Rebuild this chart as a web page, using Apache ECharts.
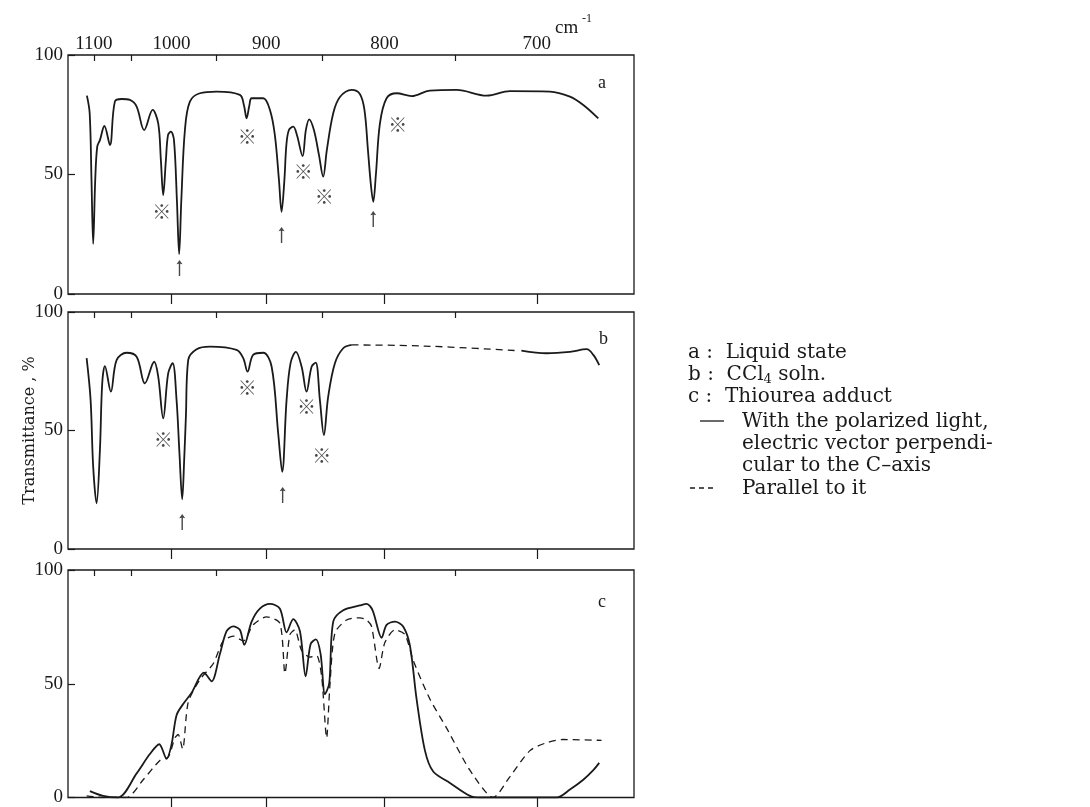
<!DOCTYPE html>
<html>
<head>
<meta charset="utf-8">
<script src="https://cdn.jsdelivr.net/npm/echarts@6/dist/echarts.min.js"></script>
<style>
html,body{margin:0;padding:0;background:#fff;}
#chart{width:1090px;height:807px;}
</style>
</head>
<body>
<div id="chart"></div>
<script>
// wavenumber (cm-1) / transmittance (%)
var aWn = [1110, 1106, 1103.4, 1101, 1098.1, 1095.3, 1091.5, 1085.3, 1077.7, 1071, 1062, 1051.2, 1042.5, 1033, 1022.5, 1015.7, 1012.5, 1009.7, 1006.5, 1004, 1000.6, 997, 993.6, 991, 988.5, 984.4, 978.8, 967.7, 949.7, 925.7, 921.6, 919, 916.2, 914, 902.8, 896.4, 891.8, 888, 885.6, 883, 881.2, 878.9, 875, 871.7, 866.7, 863.8, 860.9, 856.8, 852.5, 848.9, 845.8, 840.5, 835, 825.5, 819, 815.4, 812.7, 810.4, 808.6, 806.6, 803.5, 798.5, 791, 780.2, 767.4, 749.4, 730.1, 715.8, 692.6, 681.5, 674.3, 666.4];
var aT = [83, 75.6, 47.7, 21, 47.7, 61.6, 64.4, 70.3, 62.3, 80.5, 81.6, 81.2, 78.4, 68.6, 77, 71.4, 56, 41.4, 56, 66.5, 67.9, 64.4, 39.3, 16.7, 39.3, 68.6, 80.5, 84, 84.7, 83.3, 79, 73.5, 79, 81.9, 81.9, 77, 66.5, 47.7, 34.4, 47.7, 62.3, 68.6, 70, 66.5, 57.7, 68.6, 73.1, 68.6, 58.2, 49.1, 60.3, 75.6, 82.4, 85.4, 83.7, 77, 60.3, 45.6, 38.6, 49.8, 71.4, 81.9, 84, 82.8, 85.1, 85.4, 83, 84.9, 84.7, 82.6, 79.1, 73.5];

var bWn = [1110.4, 1104.7, 1101, 1096.2, 1091.5, 1088.3, 1084.6, 1076.4, 1068.7, 1055.5, 1042.5, 1032.1, 1020.6, 1015.7, 1009.7, 1003.8, 998.6, 994, 990.6, 987.5, 985.2, 983.3, 980.7, 971.3, 956.8, 929, 922.3, 918, 912.5, 902.8, 894.8, 888.7, 885, 881, 877.4, 872.6, 867.5, 863.2, 858.8, 855.3, 851.7, 848.3, 844.7, 839.1, 832.3, 825.5];
var bT = [80.5, 62.9, 34.7, 19.3, 41.8, 69.9, 77.2, 66.4, 79.7, 82.8, 81.1, 69.9, 79, 72.7, 55.1, 74.1, 78.4, 62.9, 40, 21, 38, 55.8, 79.7, 84.3, 85.4, 84, 80.5, 74.8, 81.9, 82.8, 76.9, 48.8, 32.6, 62.9, 78.4, 83.2, 76.9, 66.4, 76.9, 78.6, 62.9, 48.1, 64.3, 78.4, 84.7, 86.1];
var bDashWn = [825.5, 788.7, 753.8, 711.8];
var bDashT = [86.1, 85.9, 85.2, 83.7];
var bTailWn = [709, 694.4, 681.5, 672.5, 669, 665.9];
var bTailT = [83.7, 82.6, 83.2, 84.3, 81.9, 77.6];

var cWn = [1105.7, 1087, 1066.5, 1042.5, 1025.9, 1014.5, 1005.7, 999.8, 994, 986.4, 976.8, 963.3, 955, 946.2, 939.2, 932.4, 925.7, 921.3, 914, 906, 896.4, 887.1, 881, 875, 869, 864, 859.7, 855.1, 851.1, 847.4, 843.8, 840.5, 832.3, 819, 813.7, 809.1, 802.2, 798.5, 792.3, 786.3, 781.4, 776.7, 770.8, 765.1, 753.8, 740.7, 734.3, 688.8, 681.5, 674.3, 669, 665.9];
var cT = [2.8, 0.7, 0, 10.6, 19.1, 23.4, 17, 23.4, 36.2, 41.1, 46.1, 54.9, 51.1, 63.1, 73.1, 75.2, 73.7, 67.1, 77.3, 83, 85.1, 83, 72.6, 78.4, 73.1, 53.2, 67.4, 69.5, 63.1, 45.4, 50.3, 77.3, 82.3, 84.4, 85.1, 82.3, 70.2, 75.9, 77.3, 75.2, 66.7, 43.3, 20.6, 11.4, 6.4, 0.7, 0, 0, 3.5, 7.8, 12, 15.2];
var cDashWn = [1110.4, 1087, 1055.5, 1034.2, 1013.7, 1003.8, 995.9, 992.1, 987, 980.7, 967.7, 953.3, 942.7, 932.4, 922.3, 912.5, 899.6, 887.1, 882.5, 878, 873.6, 867.5, 860.3, 854.5, 850.2, 846, 843.3, 839.1, 829.6, 819, 813.7, 809.9, 804.1, 799.8, 792.3, 785, 779.1, 767.4, 756, 740.7, 726, 715.8, 704, 694.4, 685.2, 664.7];
var cDashT = [0.7, 0, 0, 7.8, 16.3, 17.7, 26.2, 27.7, 21.3, 41.8, 51.8, 58.8, 68.8, 70.9, 68.8, 75.9, 79.4, 76.6, 54.6, 71.6, 73.7, 64.6, 61.7, 62.4, 53.2, 26.2, 48.9, 72.3, 78, 79, 78, 75.2, 56.7, 68.1, 73.7, 71.6, 60.3, 43.3, 30.5, 12, 0, 9.2, 20.6, 24.1, 25.5, 25.1];

// ※ marks and arrows
var aMarkWn = [1011.6, 918.4, 866.1, 848, 790.3];
var aMarkT = [34.4, 65.8, 51.2, 40.7, 71];
var bMarkWn = [1009.7, 918.4, 863.2, 850.2];
var bMarkT = [46, 68.2, 60, 39.2];
var aArrowWn = [990.6, 885.6, 808.6];
var aArrowT = [10.9, 24.7, 31.4];
var bArrowWn = [987.5, 884.6];
var bArrowT = [11.4, 22.8];

// axis (scale is linear in wavelength)
var majorWn = [1000, 900, 800, 700];
var minorWn = [1100, 1050, 950, 850, 750];
var labelWn = [1100, 1000, 900, 800, 700];
var yTicks = [0, 50, 100];
var xLeftWn = 1138, xRightWn = 648.3;

function lam(w) { return 1e4 / w; }
function pairs(wn, t) {
	return wn.map(function (w, i) { return [lam(w), t[i]]; });
}

var serif = 'Liberation Serif';
var ink = '#1a1a1a';
var tops = [55, 312, 570];
var heights = [239, 237, 235];

var grids = [], xAxes = [], yAxes = [];
for (var i = 0; i < 3; i++) {
	grids.push({left: 68, width: 566, top: tops[i], height: heights[i], show: true,
		borderColor: ink, borderWidth: 1.3, backgroundColor: 'transparent'});
	var base = {
		type: 'value', gridIndex: i, position: 'top', min: lam(xLeftWn), max: lam(xRightWn),
		axisLine: {show: false}, splitLine: {show: false}
	};
	xAxes.push(Object.assign({}, base, {
		axisTick: {show: true, inside: true, length: 10, customValues: majorWn.map(lam), lineStyle: {color: ink, width: 1.2}},
		axisLabel: {show: i === 0, customValues: labelWn.map(lam), margin: 1,
			fontFamily: serif, fontSize: 19, color: ink,
			formatter: function (v) { return Math.round(1e4 / v); }}
	}));
	xAxes.push(Object.assign({}, base, {
		axisTick: {show: true, inside: true, length: 6, customValues: minorWn.map(lam), lineStyle: {color: ink, width: 1.2}},
		axisLabel: {show: false}
	}));
	yAxes.push({
		type: 'value', gridIndex: i, min: 0, max: 100, interval: 50,
		axisLine: {show: false}, splitLine: {show: false},
		axisTick: {show: true, inside: true, length: 7, customValues: yTicks, lineStyle: {color: ink, width: 1.2}},
		axisLabel: {fontFamily: serif, fontSize: 19, color: ink, margin: 5},
		name: i === 1 ? 'Transmittance , %' : '',
		nameLocation: 'middle', nameGap: 30, nameRotate: 90, nameMoveOverlap: false,
		nameTextStyle: {fontFamily: 'DejaVu Serif', fontSize: 16, color: ink}
	});
}

function curve(g, data, dashed, smooth) {
	return {
		type: 'line', xAxisIndex: g * 2, yAxisIndex: g, data: data,
		showSymbol: false, smooth: smooth, silent: true,
		lineStyle: dashed ? {color: ink, width: 1.3, type: [7, 5]} : {color: ink, width: 1.8}
	};
}
function marks(g, wn, t) {
	return {
		type: 'scatter', xAxisIndex: g * 2, yAxisIndex: g, data: pairs(wn, t),
		symbolSize: 1, itemStyle: {color: 'rgba(0,0,0,0)'}, silent: true,
		label: {show: true, position: 'inside', formatter: '※', fontSize: 19,
			fontFamily: 'Noto Sans CJK JP', color: ink}
	};
}
function arrows(g, wn, t) {
	return {
		type: 'scatter', xAxisIndex: g * 2, yAxisIndex: g, data: pairs(wn, t), silent: true,
		symbol: 'path://M5,0 L8,7 L5.7,6 L5.7,26 L4.3,26 L4.3,6 L2,7 Z',
		symbolSize: [6, 16], itemStyle: {color: ink}
	};
}

function txt(x, y, text, size, extra) {
	return {type: 'text', x: x, y: y, silent: true,
		style: Object.assign({text: text, fontFamily: 'DejaVu Serif', fontSize: size, fill: ink,
			verticalAlign: 'middle', align: 'left'}, extra || {})};
}

var option = {
	animation: false,
	backgroundColor: '#fff',
	grid: grids,
	xAxis: xAxes,
	yAxis: yAxes,
	series: [
		curve(0, pairs(aWn, aT), false, 0.35),
		marks(0, aMarkWn, aMarkT),
		arrows(0, aArrowWn, aArrowT),
		curve(1, pairs(bWn, bT), false, 0.35),
		curve(1, pairs(bDashWn, bDashT), true, 0.35),
		curve(1, pairs(bTailWn, bTailT), false, 0.35),
		marks(1, bMarkWn, bMarkT),
		arrows(1, bArrowWn, bArrowT),
		curve(2, pairs(cWn, cT), false, 0.3),
		curve(2, pairs(cDashWn, cDashT), true, 0.25)
	],
	graphic: [
		txt(555, 28, 'cm', 19, {fontFamily: serif}),
		txt(582, 19, '-1', 12, {fontFamily: serif}),
		txt(598, 83, 'a', 18, {fontFamily: serif}),
		txt(599, 339, 'b', 18, {fontFamily: serif}),
		txt(598, 602, 'c', 18, {fontFamily: serif}),
		txt(688, 353, 'a :  Liquid state', 20),
		{type: 'text', x: 688, y: 375, silent: true, style: {
			text: '{t|b :  CCl}{s|4}{t| soln.}', verticalAlign: 'middle', fill: ink,
			rich: {t: {fontFamily: 'DejaVu Serif', fontSize: 20, color: ink},
				s: {fontFamily: 'DejaVu Serif', fontSize: 13, color: ink, padding: [9, 0, 0, 0]}}}},
		txt(688, 397, 'c :  Thiourea adduct', 20),
		{type: 'line', silent: true, shape: {x1: 700, y1: 421, x2: 724, y2: 421}, style: {stroke: ink, lineWidth: 1.3}},
		txt(742, 422, 'With the polarized light,', 20),
		txt(742, 444, 'electric vector perpendi-', 20),
		txt(742, 466, 'cular to the C\u2013axis', 20),
		{type: 'line', silent: true, shape: {x1: 690, y1: 488, x2: 714, y2: 488}, style: {stroke: ink, lineWidth: 1.3, lineDash: [5, 4]}},
		txt(742, 489, 'Parallel to it', 20)
	]
};

var myChart = echarts.init(document.getElementById('chart'));
myChart.setOption(option);
</script>
</body>
</html>
